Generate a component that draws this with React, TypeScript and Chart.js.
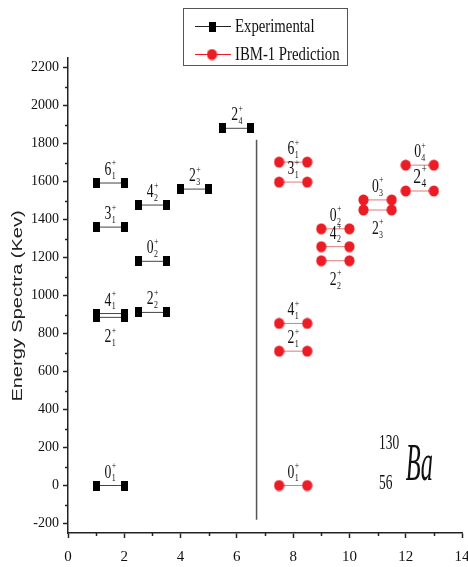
import React, { useEffect, useRef } from 'react';
import { Chart, registerables } from 'chart.js';

Chart.register(...registerables);

// ---------- Data ----------
// Experimental levels of 130Ba (keV)
const expSpin = ['0', '2', '4', '2', '0', '3', '4', '6', '2', '2'];
const expIdx = ['1', '1', '1', '2', '2', '1', '2', '1', '3', '4'];
const expEnergy = [0, 885, 905, 911, 1180, 1360, 1476, 1592, 1560, 1880];
const expXStart = [1, 1, 1, 2.5, 2.5, 1, 2.5, 1, 4, 5.5];
const expXEnd = [2, 2, 2, 3.5, 3.5, 2, 3.5, 2, 5, 6.5];
const expLabelBelow = [false, true, false, false, false, false, false, false, false, false];

// IBM-1 prediction levels (keV)
const predSpin = ['0', '2', '4', '3', '6', '2', '4', '0', '2', '0', '2', '0'];
const predIdx = ['1', '1', '1', '1', '1', '2', '2', '2', '3', '3', '4', '4'];
const predEnergy = [0, 707, 853, 1597, 1702, 1183, 1257, 1351, 1450, 1503, 1550, 1686];
const predXStart = [7.5, 7.5, 7.5, 7.5, 7.5, 9, 9, 9, 10.5, 10.5, 12, 12];
const predXEnd = [8.5, 8.5, 8.5, 8.5, 8.5, 10, 10, 10, 11.5, 11.5, 13, 13];
const predLabelBelow = [false, false, false, false, false, true, false, false, true, false, false, false];
const predLargeLabel = [false, false, false, false, false, false, false, false, false, false, true, false];

// Divider line between the two groups
const dividerX = [6.7, 6.7];
const dividerY = [-180, 1820];

// Axes
const xMin = 0;
const xMax = 14;
const xStep = 2;
const yMin = -250;
const yMax = 2250;
const yStep = 200;

const legendNames = ['Experimental', 'IBM-1 Prediction'];
const yTitle = 'Energy Spectra (Kev)';
const nucleusMass = '130';
const nucleusZ = '56';
const nucleusSymbol = 'Ba';

// ---------- Drawing helpers ----------
const SERIF = '"Liberation Serif", "Times New Roman", serif';
const SANS = '"Liberation Sans", Arial, sans-serif';
const RED = '#ec1c24';

function drawLevelLabel(ctx: CanvasRenderingContext2D, cx: number, base: number, spin: string, idx: string, size: number) {
  ctx.save();
  ctx.translate(cx, base);
  ctx.scale(0.72, 1);
  ctx.fillStyle = '#111';
  ctx.textBaseline = 'alphabetic';
  ctx.textAlign = 'left';
  ctx.font = `${size}px ${SERIF}`;
  const mw = ctx.measureText(spin).width;
  const small = Math.round(size * 0.58);
  ctx.font = `${small}px ${SERIF}`;
  const sw = Math.max(ctx.measureText(idx).width, ctx.measureText('+').width);
  const x0 = -(mw + sw) / 2;
  ctx.font = `${size}px ${SERIF}`;
  ctx.fillText(spin, x0, 0);
  ctx.font = `${small}px ${SERIF}`;
  ctx.fillText('+', x0 + mw + 0.5, -size * 0.45);
  ctx.fillText(idx, x0 + mw + 0.5, size * 0.2);
  ctx.restore();
}

function makeSquare(): HTMLCanvasElement {
  const c = document.createElement('canvas');
  c.width = 7;
  c.height = 10;
  const g = c.getContext('2d')!;
  g.fillStyle = '#000';
  g.fillRect(0, 0, 7, 10);
  return c;
}

function makeCircle(): HTMLCanvasElement {
  const c = document.createElement('canvas');
  c.width = 11;
  c.height = 12;
  const g = c.getContext('2d')!;
  g.fillStyle = RED;
  g.beginPath();
  g.ellipse(5.5, 6, 5.1, 5.6, 0, 0, Math.PI * 2);
  g.fill();
  return c;
}

export default function App() {
  const ref = useRef<HTMLCanvasElement>(null);

  useEffect(() => {
    document.body.style.margin = '0';
    const canvas = ref.current;
    if (!canvas) return;
    const square = makeSquare();
    const circle = makeCircle();

    const datasets: any[] = [];
    expEnergy.forEach((e, i) => {
      datasets.push({
        label: legendNames[0],
        data: [{ x: expXStart[i], y: e }, { x: expXEnd[i], y: e }],
        showLine: true,
        borderColor: '#444',
        borderWidth: 1,
        pointStyle: square,
        pointRadius: 5,
      });
    });
    predEnergy.forEach((e, i) => {
      datasets.push({
        label: legendNames[1],
        data: [{ x: predXStart[i], y: e }, { x: predXEnd[i], y: e }],
        showLine: true,
        borderColor: '#e0797c',
        borderWidth: 1,
        pointStyle: circle,
        pointRadius: 5,
      });
    });
    datasets.push({
      label: 'divider',
      data: [{ x: dividerX[0], y: dividerY[0] }, { x: dividerX[1], y: dividerY[1] }],
      showLine: true,
      borderColor: '#555',
      borderWidth: 1.5,
      pointRadius: 0,
    });

    const overlay = {
      id: 'overlay',
      afterDraw(chart: any) {
        const ctx: CanvasRenderingContext2D = chart.ctx;
        const xs = chart.scales.x;
        const ys = chart.scales.y;
        const area = chart.chartArea;

        // minor ticks
        ctx.save();
        ctx.strokeStyle = '#222';
        ctx.lineWidth = 1.5;
        ctx.beginPath();
        for (let v = -200 + yStep / 2; v < yMax; v += yStep) {
          const py = Math.round(ys.getPixelForValue(v)) + 0.5;
          ctx.moveTo(area.left - 3, py);
          ctx.lineTo(area.left, py);
        }
        for (let v = xMin + xStep / 2; v < xMax; v += xStep) {
          const px = Math.round(xs.getPixelForValue(v)) + 0.5;
          ctx.moveTo(px, area.bottom);
          ctx.lineTo(px, area.bottom + 3);
        }
        ctx.stroke();
        ctx.restore();

        // level labels
        expEnergy.forEach((e, i) => {
          const cx = xs.getPixelForValue((expXStart[i] + expXEnd[i]) / 2);
          const py = ys.getPixelForValue(e);
          drawLevelLabel(ctx, cx, expLabelBelow[i] ? py + 25 : py - 8, expSpin[i], expIdx[i], 19);
        });
        predEnergy.forEach((e, i) => {
          const cx = xs.getPixelForValue((predXStart[i] + predXEnd[i]) / 2);
          const py = ys.getPixelForValue(e);
          const size = predLargeLabel[i] ? 22 : 19;
          drawLevelLabel(ctx, cx, predLabelBelow[i] ? py + 24 : py - 8, predSpin[i], predIdx[i], size);
        });

        // nucleus label
        ctx.save();
        ctx.fillStyle = '#111';
        ctx.textBaseline = 'alphabetic';
        ctx.textAlign = 'left';
        const nx = xs.getPixelForValue(11.05);
        ctx.save();
        ctx.translate(nx, ys.getPixelForValue(190));
        ctx.scale(0.64, 1);
        ctx.font = `21px ${SERIF}`;
        ctx.fillText(nucleusMass, 0, 0);
        ctx.restore();
        ctx.save();
        ctx.translate(nx, ys.getPixelForValue(-18));
        ctx.scale(0.64, 1);
        ctx.font = `21px ${SERIF}`;
        ctx.fillText(nucleusZ, 0, 0);
        ctx.restore();
        ctx.save();
        ctx.translate(xs.getPixelForValue(12.0), ys.getPixelForValue(30));
        ctx.scale(0.47, 1);
        ctx.font = `italic 52px ${SERIF}`;
        ctx.fillText(nucleusSymbol, 0, 0);
        ctx.restore();
        ctx.restore();

        // y axis title
        ctx.save();
        ctx.translate(18, 306);
        ctx.rotate(-Math.PI / 2);
        ctx.scale(1, 0.7);
        ctx.fillStyle = '#222';
        ctx.font = `20px ${SANS}`;
        ctx.textAlign = 'center';
        ctx.textBaseline = 'middle';
        ctx.fillText(yTitle, 0, 0);
        ctx.restore();

        // legend
        ctx.save();
        ctx.strokeStyle = '#555';
        ctx.lineWidth = 1;
        ctx.strokeRect(183.5, 8.5, 164, 57);
        // row 1
        ctx.strokeStyle = '#222';
        ctx.beginPath();
        ctx.moveTo(195, 26.5);
        ctx.lineTo(231, 26.5);
        ctx.stroke();
        ctx.drawImage(square, 212 - 3.5, 26.5 - 5);
        // row 2
        ctx.strokeStyle = RED;
        ctx.beginPath();
        ctx.moveTo(195, 54.5);
        ctx.lineTo(231, 54.5);
        ctx.stroke();
        ctx.drawImage(circle, 212 - 5.5, 54.5 - 6);
        ctx.fillStyle = '#111';
        ctx.textAlign = 'left';
        ctx.textBaseline = 'alphabetic';
        ctx.font = `18px ${SERIF}`;
        ctx.save();
        ctx.translate(235, 32);
        ctx.scale(0.82, 1);
        ctx.fillText(legendNames[0], 0, 0);
        ctx.restore();
        ctx.save();
        ctx.translate(235, 60);
        ctx.scale(0.82, 1);
        ctx.fillText(legendNames[1], 0, 0);
        ctx.restore();
        ctx.restore();
      },
    };

    const chart = new Chart(canvas, {
      type: 'scatter',
      data: { datasets },
      options: {
        animation: false,
        responsive: false,
        devicePixelRatio: 1,
        layout: { padding: { top: 58, right: 3, left: 0, bottom: 0 } },
        plugins: {
          legend: { display: false },
          tooltip: { enabled: false },
        },
        scales: {
          x: {
            type: 'linear',
            min: xMin,
            max: xMax,
            ticks: {
              stepSize: xStep,
              color: '#111',
              padding: 10,
              font: { family: SERIF, size: 15 },
              maxRotation: 0,
              autoSkip: false,
              callback: (v: any) => String(v),
            },
            grid: {
              drawOnChartArea: false,
              drawTicks: true,
              tickLength: 5,
              tickColor: '#222',
              tickWidth: 1.5,
            },
            border: { color: '#222', width: 1.5 },
            afterFit: (s: any) => {
              s.height = 34;
              s.paddingLeft = 0;
              s.paddingRight = 0;
            },
          },
          y: {
            type: 'linear',
            min: yMin,
            max: yMax,
            ticks: {
              stepSize: yStep,
              includeBounds: false,
              color: '#111',
              padding: 4,
              font: { family: SERIF, size: 14 },
              autoSkip: false,
              callback: (v: any) => String(v),
            },
            grid: {
              drawOnChartArea: false,
              drawTicks: true,
              tickLength: 5,
              tickColor: '#222',
              tickWidth: 1.5,
            },
            border: { color: '#222', width: 1.5 },
            afterFit: (s: any) => {
              s.width = 68;
              s.paddingTop = 0;
              s.paddingBottom = 0;
            },
          },
        },
      },
      plugins: [overlay],
    } as any);

    return () => chart.destroy();
  }, []);

  return (
    <div style={{ width: 468, height: 567 }}>
      <canvas ref={ref} width={468} height={567} style={{ display: 'block' }} />
    </div>
  );
}
